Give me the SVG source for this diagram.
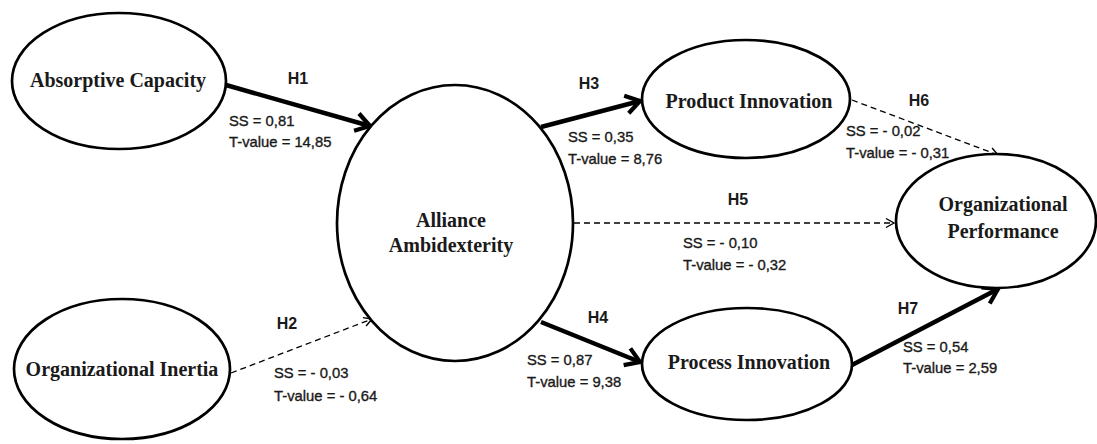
<svg xmlns="http://www.w3.org/2000/svg" width="1097" height="444" viewBox="0 0 1097 444">
  <style>
    .node { fill: #ffffff; stroke: #000000; stroke-width: 2.7; }
    .nlabel { font-family: "Liberation Serif", "Times New Roman", serif; font-weight: bold; font-size: 20px; fill: #1a1a1a; text-anchor: middle; }
    .thick { stroke: #000000; stroke-width: 4.5; fill: none; }
    .dash { stroke: #000000; stroke-width: 1.3; fill: none; stroke-dasharray: 6 4; }
    .hlabel { font-family: "Liberation Sans", Arial, sans-serif; font-weight: bold; font-size: 16px; fill: #1a1a1a; text-anchor: middle; }
    .stat { font-family: "Liberation Sans", Arial, sans-serif; font-size: 14.8px; fill: #1a1a1a; stroke: #1a1a1a; stroke-width: 0.35; }
  </style>
  <defs>
    <marker id="arrowThick" markerUnits="userSpaceOnUse" viewBox="0 0 24 24" markerWidth="24" markerHeight="24" refX="19" refY="12" orient="auto">
      <path d="M5,3 L19,12 L5,21" fill="none" stroke="#000000" stroke-width="4.2" stroke-linejoin="miter"/>
    </marker>
    <marker id="arrowThin" markerUnits="userSpaceOnUse" viewBox="0 0 14 14" markerWidth="14" markerHeight="14" refX="12" refY="7" orient="auto">
      <path d="M4,2.5 L12,7 L4,11.5" fill="none" stroke="#000000" stroke-width="1.4"/>
    </marker>
  </defs>

  <g id="connectors">
    <line id="H1-line" class="thick" x1="226" y1="85" x2="370" y2="126" marker-end="url(#arrowThick)"/>
    <line id="H2-line" class="dash" x1="231" y1="373" x2="372" y2="319" marker-end="url(#arrowThin)"/>
    <line id="H3-line" class="thick" x1="541" y1="127" x2="640" y2="101" marker-end="url(#arrowThick)"/>
    <line id="H4-line" class="thick" x1="541" y1="322" x2="640" y2="362" marker-end="url(#arrowThick)"/>
    <line id="H5-line" class="dash" x1="574" y1="223" x2="894" y2="223" marker-end="url(#arrowThin)"/>
    <line id="H6-line" class="dash" x1="852" y1="100" x2="998" y2="155" marker-end="url(#arrowThin)"/>
    <line id="H7-line" class="thick" x1="852" y1="365" x2="998" y2="289" marker-end="url(#arrowThick)"/>

    <text class="hlabel" x="298" y="84">H1</text>
    <text class="stat" x="229" y="126">SS = 0,81</text>
    <text class="stat" x="229" y="147">T-value = 14,85</text>

    <text class="hlabel" x="287" y="329">H2</text>
    <text class="stat" x="274" y="378">SS = - 0,03</text>
    <text class="stat" x="274" y="401">T-value = - 0,64</text>

    <text class="hlabel" x="589" y="89">H3</text>
    <text class="stat" x="568" y="142">SS = 0,35</text>
    <text class="stat" x="568" y="164">T-value = 8,76</text>

    <text class="hlabel" x="598" y="323">H4</text>
    <text class="stat" x="527" y="365">SS = 0,87</text>
    <text class="stat" x="527" y="387">T-value = 9,38</text>

    <text class="hlabel" x="738" y="205">H5</text>
    <text class="stat" x="683" y="248">SS = - 0,10</text>
    <text class="stat" x="683" y="270">T-value = - 0,32</text>

    <text class="hlabel" x="919" y="106">H6</text>
    <text class="stat" x="846" y="136">SS = - 0,02</text>
    <text class="stat" x="846" y="158">T-value = - 0,31</text>

    <text class="hlabel" x="908" y="314">H7</text>
    <text class="stat" x="903" y="352">SS = 0,54</text>
    <text class="stat" x="903" y="373">T-value = 2,59</text>
  </g>

  <g id="absorptive-capacity">
    <ellipse class="node" cx="119" cy="81" rx="107" ry="68"/>
    <text class="nlabel" x="118" y="87">Absorptive Capacity</text>
  </g>

  <g id="organizational-inertia">
    <ellipse class="node" cx="122" cy="369" rx="108" ry="70"/>
    <text class="nlabel" x="122" y="376">Organizational Inertia</text>
  </g>

  <g id="alliance-ambidexterity">
    <ellipse class="node" cx="455" cy="223" rx="118" ry="138"/>
    <text class="nlabel" x="451" y="227">Alliance</text>
    <text class="nlabel" x="451" y="252">Ambidexterity</text>
  </g>

  <g id="product-innovation">
    <ellipse class="node" cx="746" cy="99" rx="104" ry="59"/>
    <text class="nlabel" x="749" y="108">Product Innovation</text>
  </g>

  <g id="process-innovation">
    <ellipse class="node" cx="747" cy="364" rx="105" ry="56"/>
    <text class="nlabel" x="749" y="369">Process Innovation</text>
  </g>

  <g id="organizational-performance">
    <ellipse class="node" cx="996" cy="221" rx="100" ry="67"/>
    <text class="nlabel" x="1003" y="211">Organizational</text>
    <text class="nlabel" x="1003" y="238">Performance</text>
  </g>
</svg>
